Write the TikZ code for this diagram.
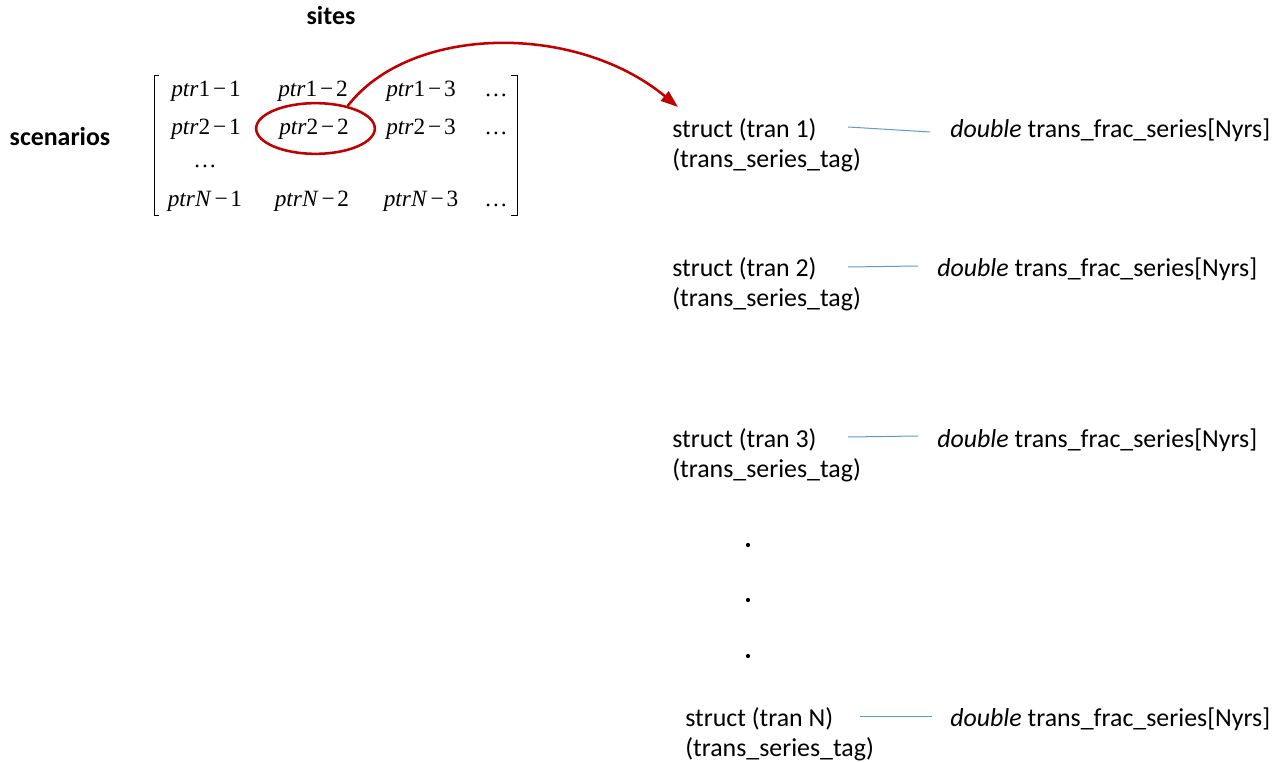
\documentclass[tikz,border=0pt]{standalone}
\usepackage{fontspec}
\setmainfont{Carlito}
\newfontfamily\entryfont{Liberation Serif}
\usetikzlibrary{arrows.meta,shapes.geometric}
\definecolor{selred}{HTML}{C00000}
\definecolor{linkblue}{HTML}{5B9BD5}
\tikzset{
  lbl/.style={font=\fontsize{19.4}{23}\selectfont, inner sep=0pt, anchor=base west},
  head/.style={font=\bfseries\fontsize{19.4}{23}\selectfont, inner sep=0pt, anchor=base},
  ent/.style={font=\entryfont\fontsize{17.5}{20}\selectfont, inner sep=0pt, anchor=base},
  link/.style={draw=linkblue, line width=0.75pt},
  bracket/.style={draw=black, line width=0.6pt},
  dot/.style={circle, fill=black, inner sep=0pt, minimum size=3.2pt},
}
\newcommand{\ent}[2]{\textit{ptr}#1\kern0.12em−\kern0.12em#2}
\begin{document}
\begin{tikzpicture}[x=0.75pt,y=-0.75pt]
\useasboundingbox (0,0) rectangle (1277,762);

% axis headings
\node[head] (sites) at (331,25) {sites};
\node[head] (scen) at (60,146) {scenarios};

% pointer matrix
\node[ent] (m11) at (206,97) {\ent{1}{1}};
\node[ent] (m12) at (313,97) {\ent{1}{2}};
\node[ent] (m13) at (421,97) {\ent{1}{3}};
\node[ent] (m14) at (496,97) {…};
\node[ent] (m21) at (206,135) {\ent{2}{1}};
\node[ent] (m22) at (314,135) {\ent{2}{2}};
\node[ent] (m23) at (421,135) {\ent{2}{3}};
\node[ent] (m24) at (496,135) {…};
\node[ent] (m31) at (205,168) {…};
\node[ent] (m41) at (205,207) {\ent{\textit{N}}{1}};
\node[ent] (m42) at (312,207) {\ent{\textit{N}}{2}};
\node[ent] (m43) at (421,207) {\ent{\textit{N}}{3}};
\node[ent] (m44) at (496,207) {…};
\draw[bracket] (159,75) -- (154,75) -- (154,215) -- (159,215);
\draw[bracket] (511,75) -- (517,75) -- (517,215) -- (511,215);

% selected entry
\node[ellipse, draw=selred, line width=1.9pt, minimum width=89pt, minimum height=38pt, inner sep=0pt]
  (sel) at (315.5,128.5) {};

% transition records
\node[lbl] (s1)  at (672,138) {struct (tran 1)};
\node[lbl] (t1)  at (672,168) {(trans\_series\_tag)};
\node[lbl] (d1)  at (950,138) {\textit{double} trans\_frac\_series[Nyrs]};
\node[lbl] (s2)  at (672,277) {struct (tran 2)};
\node[lbl] (t2)  at (672,307) {(trans\_series\_tag)};
\node[lbl] (d2)  at (937,277) {\textit{double} trans\_frac\_series[Nyrs]};
\node[lbl] (s3)  at (672,447) {struct (tran 3)};
\node[lbl] (t3)  at (672,477) {(trans\_series\_tag)};
\node[lbl] (d3)  at (937,447) {\textit{double} trans\_frac\_series[Nyrs]};
\node[lbl] (sN)  at (685,726) {struct (tran N)};
\node[lbl] (tN)  at (685,756) {(trans\_series\_tag)};
\node[lbl] (dN)  at (950,726) {\textit{double} trans\_frac\_series[Nyrs]};

\node[dot] (v1) at (748,545) {};
\node[dot] (v2) at (748,600) {};
\node[dot] (v3) at (748,656) {};

% links from each record to its series
\coordinate (a1) at (848,127);  \coordinate (b1) at (930,132);
\coordinate (a2) at (848,267);  \coordinate (b2) at (918,266);
\coordinate (a3) at (848,437);  \coordinate (b3) at (918,436);
\coordinate (aN) at (860,716);  \coordinate (bN) at (932,716);
\draw[link] (a1) -- (b1);
\draw[link] (a2) -- (b2);
\draw[link] (a3) -- (b3);
\draw[link] (aN) -- (bN);

% pointer arrow
\coordinate (tip) at (678,107);
\draw[selred, line width=1.9pt, -{Triangle[length=13pt,width=9pt]}]
  (sel.35) .. controls (410,25) and (575,22) .. (tip);
\end{tikzpicture}
\end{document}
